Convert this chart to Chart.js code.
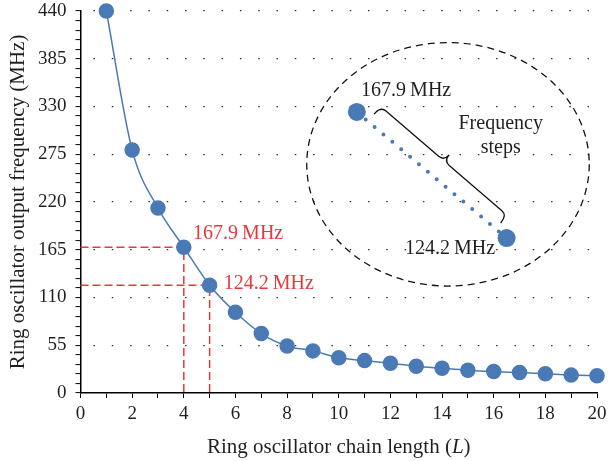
<!DOCTYPE html>
<html>
<head>
<meta charset="utf-8">
<script src="https://cdn.jsdelivr.net/npm/chart.js@4.4.0/dist/chart.umd.min.js"></script>
<style>
    html, body { margin: 0; padding: 0; background: #fff; }
</style>
</head>
<body>
<canvas id="mainChart" width="608" height="461"></canvas>
<script>
// ring oscillator chain length L and measured output frequency (MHz)
const chainLength = [1, 2, 3, 4, 5, 6, 7, 8, 9, 10, 11, 12, 13, 14, 15, 16, 17, 18, 19, 20]
const frequency = [440, 280, 213, 167.9, 124.2, 93, 68.5, 54.2, 48.5, 40.5, 37.3, 34.3, 30.8, 28.5, 26.3, 24.7, 23.5, 22.1, 20.6, 19.8]

// the two highlighted points
const markedL = [4, 5]
const markedFreq = [167.9, 124.2]
const markedText = ["167.9\u2009MHz", "124.2\u2009MHz"]

// zoomed inset (schematic, in chart units)
const insetL = [10.7, 16.5]
const insetFreq = [323.7, 178.5]

// axis ticks
const yMajorStep = 55
const yMinorStep = 11
const yMax = 440
const xMax = 20

const blue = "#4a7ab5"
const red = "#e8383d"
const ink = "#231f20"
const serif = "'Liberation Serif', 'Times New Roman', serif"

// where the inset decorations sit, in chart units
const deco = {
    ellipse: { x: 14.23, y: 263.4, rx: 5.47, ry: 140.2 },
    brace: { x1: 11.37, y1: 321.4, x2: 16.27, y2: 195.8 },
    insetTop: { x: 12.61, y: 348.2 },
    insetBottom: { x: 14.31, y: 166.7 },
    stepsText: { x: 16.27, y1: 309.8, y2: 282.2 },
    redTop: { x: 4.36, y: 183.1 },
    redBottom: { x: 5.55, y: 126.4 }
}

function drawBrace(ctx, x1, y1, x2, y2, h, tip) {
    const len = Math.hypot(x2 - x1, y2 - y1)
    const ang = Math.atan2(y2 - y1, x2 - x1)
    const r = 7
    ctx.save()
    ctx.translate(x1, y1)
    ctx.rotate(ang)
    ctx.beginPath()
    ctx.moveTo(0, 0)
    ctx.quadraticCurveTo(0, -h, r, -h)
    ctx.lineTo(len / 2 - r, -h)
    ctx.quadraticCurveTo(len / 2, -h, len / 2, -h - tip)
    ctx.quadraticCurveTo(len / 2, -h, len / 2 + r, -h)
    ctx.lineTo(len - r, -h)
    ctx.quadraticCurveTo(len, -h, len, 0)
    ctx.stroke()
    ctx.restore()
}

const annotate = {
    id: "annotate",
    afterDatasetsDraw(chart) {
        const ctx = chart.ctx
        const xs = chart.scales.x
        const ys = chart.scales.y
        const px = v => xs.getPixelForValue(v)
        const py = v => ys.getPixelForValue(v)
        ctx.save()

        // dashed ellipse round the inset
        const e = deco.ellipse
        const cx = px(e.x), cy = py(e.y)
        const rx = px(e.x + e.rx) - cx, ry = cy - py(e.y + e.ry)
        ctx.beginPath()
        ctx.ellipse(cx, cy, rx, ry, 0, 0, Math.PI * 2)
        ctx.setLineDash([7, 5])
        ctx.lineWidth = 1.3
        ctx.strokeStyle = "#111"
        ctx.stroke()
        ctx.setLineDash([])

        // brace
        const b = deco.brace
        ctx.lineWidth = 1.3
        drawBrace(ctx, px(b.x1), py(b.y1), px(b.x2), py(b.y2), 10, 8)

        // texts
        ctx.font = "20px " + serif
        ctx.textBaseline = "middle"
        ctx.fillStyle = ink
        ctx.textAlign = "center"
        ctx.fillText(markedText[0], px(deco.insetTop.x), py(deco.insetTop.y))
        ctx.fillText(markedText[1], px(deco.insetBottom.x), py(deco.insetBottom.y))
        ctx.fillText("Frequency", px(deco.stepsText.x), py(deco.stepsText.y1))
        ctx.fillText("steps", px(deco.stepsText.x), py(deco.stepsText.y2))

        ctx.fillStyle = red
        ctx.textAlign = "left"
        ctx.fillText(markedText[0], px(deco.redTop.x), py(deco.redTop.y))
        ctx.fillText(markedText[1], px(deco.redBottom.x), py(deco.redBottom.y))
        ctx.restore()
    },
    afterDraw(chart) {
        const ctx = chart.ctx
        const area = chart.chartArea
        ctx.save()
        ctx.fillStyle = ink
        ctx.textBaseline = "alphabetic"
        ctx.textAlign = "left"

        // x title with italic L
        const regular = "21px " + serif
        const italic = "italic 21px " + serif
        const parts = [["Ring oscillator chain length (", regular], ["L", italic], [")", regular]]
        let total = 0
        parts.forEach(p => { ctx.font = p[1]; total += ctx.measureText(p[0]).width })
        let x = (area.left + area.right) / 2 - total / 2
        parts.forEach(p => {
            ctx.font = p[1]
            ctx.fillText(p[0], x, 453)
            x += ctx.measureText(p[0]).width
        })

        // y title
        ctx.font = regular
        ctx.translate(23.5, (area.top + area.bottom) / 2)
        ctx.rotate(-Math.PI / 2)
        ctx.textAlign = "center"
        ctx.fillText("Ring oscillator output frequency (MHz)", 0, 0)
        ctx.restore()
    }
}

const mainPoints = chainLength.map((l, i) => ({ x: l, y: frequency[i] }))
const guide = i => [{ x: 0, y: markedFreq[i] }, { x: markedL[i], y: markedFreq[i] }, { x: markedL[i], y: 0 }]
const insetPoints = insetL.map((l, i) => ({ x: l, y: insetFreq[i] }))

const tickFont = { family: serif, size: 19 }

new Chart(document.getElementById("mainChart"), {
    type: "line",
    data: {
        datasets: [
            {
                data: mainPoints,
                borderColor: blue,
                borderWidth: 1.5,
                backgroundColor: blue,
                pointBackgroundColor: blue,
                pointBorderColor: blue,
                pointRadius: 7,
                cubicInterpolationMode: "monotone",
                clip: false,
                order: 0
            },
            {
                data: guide(0),
                borderColor: red,
                borderWidth: 1.5,
                borderDash: [8, 4],
                pointRadius: 0,
                clip: false,
                order: 2
            },
            {
                data: guide(1),
                borderColor: red,
                borderWidth: 1.5,
                borderDash: [8, 4],
                pointRadius: 0,
                clip: false,
                order: 2
            },
            {
                data: insetPoints,
                borderColor: blue,
                borderWidth: 4,
                borderDash: [0, 11.6],
                borderCapStyle: "round",
                pointRadius: 7,
                pointBackgroundColor: blue,
                pointBorderColor: blue,
                clip: false,
                order: 1
            }
        ]
    },
    options: {
        responsive: false,
        animation: false,
        devicePixelRatio: 1,
        layout: { padding: { top: 11, right: 10, left: 0, bottom: 0 } },
        plugins: { legend: { display: false }, tooltip: { enabled: false } },
        scales: {
            x: {
                type: "linear",
                min: 0,
                max: xMax,
                afterFit: s => {
                    s.height = 68
                    s.paddingLeft = 0
                    s.paddingRight = 0
                },
                ticks: {
                    stepSize: 1,
                    autoSkip: false,
                    maxRotation: 0,
                    padding: 5,
                    font: tickFont,
                    color: ink,
                    callback: v => (v % 2 === 0 ? v : "")
                },
                grid: {
                    drawOnChartArea: false,
                    tickLength: 5,
                    tickColor: "#000",
                    tickWidth: 1
                },
                border: { color: "#000", width: 1.5 }
            },
            y: {
                min: 0,
                max: yMax,
                afterFit: s => {
                    s.width = 80.5
                    s.paddingTop = 0
                    s.paddingBottom = 0
                },
                ticks: {
                    stepSize: yMinorStep,
                    autoSkip: false,
                    padding: 9,
                    font: tickFont,
                    color: ink,
                    callback: v => (v % yMajorStep === 0 ? v : "")
                },
                grid: {
                    color: c => (c.tick && c.tick.value % yMajorStep === 0 && c.tick.value !== 0 ? "#333" : "rgba(0,0,0,0)"),
                    lineWidth: 1.2,
                    tickLength: 5,
                    tickColor: "#000",
                    tickWidth: 1
                },
                border: { color: "#000", width: 1.5, dash: [1.5, 16.8], dashOffset: 6.3 }
            }
        }
    },
    plugins: [annotate]
})
</script>
</body>
</html>
